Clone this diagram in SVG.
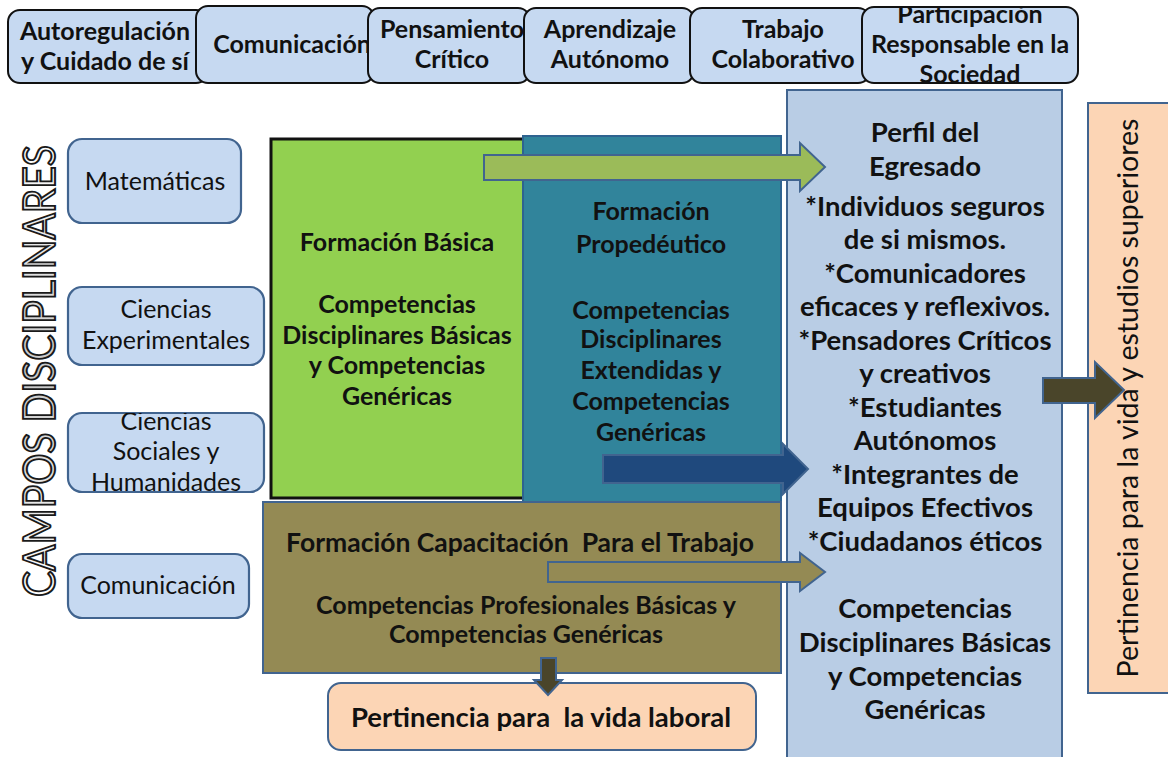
<svg xmlns="http://www.w3.org/2000/svg" width="1168" height="757" viewBox="0 0 1168 757">
<defs>
<style>
.tb{fill:#c6d9f1;stroke:#111;stroke-width:2}
.lb{fill:#c6d9f1;stroke:#41648f;stroke-width:2.2}
.t{font-family:Lato,"Open Sans",sans-serif;fill:#111;text-anchor:middle}
.tt{font-size:25px;font-weight:bold}
.lt{font-size:25px}
.ct{font-size:25px;font-weight:bold}
.ct26{font-size:26.5px;font-weight:bold}
.pt{font-size:27.5px;font-weight:bold}
.arr{stroke:#41648f;stroke-width:2}
</style>
<linearGradient id="gl" x1="0" y1="0" x2="1" y2="0">
<stop offset="0" stop-color="#ffffff"/>
<stop offset="0.5" stop-color="#c8c8c8"/>
<stop offset="1" stop-color="#ffffff"/>
</linearGradient>
<clipPath id="c6"><rect x="862" y="7" width="216" height="76" rx="12"/></clipPath>
<clipPath id="cs"><rect x="68" y="413" width="196" height="79" rx="14"/></clipPath>
</defs>
<rect width="1168" height="757" fill="#fff"/>

<g id="top-autoregulacion">
<rect class="tb" x="8" y="10" width="200" height="73" rx="12"/>
<text class="t tt" x="105" y="40">Autoregulación</text>
<text class="t tt" x="105" y="70">y Cuidado de sí</text>
</g>
<g id="top-comunicacion">
<rect class="tb" x="196" y="6" width="178" height="77" rx="12"/>
<text class="t tt" x="292" y="53">Comunicación</text>
</g>
<g id="top-pensamiento">
<rect class="tb" x="368" y="8" width="162" height="75" rx="12"/>
<text class="t tt" x="452" y="38">Pensamiento</text>
<text class="t tt" x="452" y="68">Crítico</text>
</g>
<g id="top-aprendizaje">
<rect class="tb" x="524" y="8" width="170" height="75" rx="12"/>
<text class="t tt" x="610" y="38">Aprendizaje</text>
<text class="t tt" x="610" y="68">Autónomo</text>
</g>
<g id="top-trabajo">
<rect class="tb" x="690" y="8" width="180" height="75" rx="12"/>
<text class="t tt" x="783" y="38">Trabajo</text>
<text class="t tt" x="783" y="68">Colaborativo</text>
</g>
<g id="top-participacion">
<rect class="tb" x="862" y="7" width="216" height="76" rx="12"/>
<g clip-path="url(#c6)">
<text class="t tt" x="970" y="23">Participación</text>
<text class="t tt" x="970" y="53">Responsable en la</text>
<text class="t tt" x="970" y="83">Sociedad</text>
</g>
</g>

<g id="campos-label">
<text x="0" y="0" transform="translate(55,371) rotate(-90)" font-family="Lato,'Open Sans',sans-serif" font-size="44" text-anchor="middle" fill="url(#gl)" stroke="#1a1a1a" stroke-width="2" textLength="452" lengthAdjust="spacingAndGlyphs">CAMPOS DISCIPLINARES</text>
</g>

<g id="campo-matematicas">
<rect class="lb" x="68" y="139" width="173" height="84" rx="14"/>
<text class="t lt" x="155" y="190">Matemáticas</text>
</g>
<g id="campo-experimentales">
<rect class="lb" x="68" y="287" width="196" height="78" rx="14"/>
<text class="t lt" x="166" y="318">Ciencias</text>
<text class="t lt" x="166" y="349">Experimentales</text>
</g>
<g id="campo-sociales">
<rect class="lb" x="68" y="413" width="196" height="79" rx="14"/>
<g clip-path="url(#cs)">
<text class="t lt" x="166" y="430">Ciencias</text>
<text class="t lt" x="166" y="460">Sociales y</text>
<text class="t lt" x="166" y="491">Humanidades</text>
</g>
</g>
<g id="campo-comunicacion">
<rect class="lb" x="68" y="554" width="181" height="64" rx="14"/>
<text class="t lt" x="158" y="594">Comunicación</text>
</g>

<g id="formacion-basica">
<rect x="271" y="139" width="254" height="359" fill="#92d050" stroke="#111" stroke-width="3"/>
<text class="t ct" x="397" y="251">Formación Básica</text>
<text class="t ct" x="397" y="313">Competencias</text>
<text class="t ct" x="397" y="344">Disciplinares Básicas</text>
<text class="t ct" x="397" y="374">y Competencias</text>
<text class="t ct" x="397" y="405">Genéricas</text>
</g>
<g id="formacion-propedeutico">
<rect x="523" y="136" width="258" height="366" fill="#31849b" stroke="#2e6390" stroke-width="2"/>
<text class="t ct" x="651" y="220">Formación</text>
<text class="t ct" x="651" y="253">Propedéutico</text>
<text class="t ct" x="651" y="319">Competencias</text>
<text class="t ct" x="651" y="348">Disciplinares</text>
<text class="t ct" x="651" y="379">Extendidas y</text>
<text class="t ct" x="651" y="410">Competencias</text>
<text class="t ct" x="651" y="441">Genéricas</text>
</g>
<g id="formacion-trabajo">
<rect x="263" y="502" width="518" height="171" fill="#948a54" stroke="#41648f" stroke-width="2"/>
<text class="t ct26" x="520" y="552" xml:space="preserve">Formación Capacitación  Para el Trabajo</text>
<text class="t ct" x="526" y="614">Competencias Profesionales Básicas y</text>
<text class="t ct" x="526" y="643">Competencias Genéricas</text>
</g>
<g id="pertinencia-laboral">
<rect x="328" y="683" width="428" height="67" rx="13" fill="#fcd5b5" stroke="#41648f" stroke-width="2"/>
<text class="t pt" x="541" y="727" xml:space="preserve">Pertinencia para  la vida laboral</text>
</g>

<g id="perfil-egresado">
<rect x="787" y="90" width="275" height="680" fill="#b9cde5" stroke="#41648f" stroke-width="2"/>
<text class="t pt" x="925" y="142">Perfil del</text>
<text class="t pt" x="925" y="176">Egresado</text>
<text class="t pt" x="925" y="216">*Individuos seguros</text>
<text class="t pt" x="925" y="249">de si mismos.</text>
<text class="t pt" x="925" y="283">*Comunicadores</text>
<text class="t pt" x="925" y="316">eficaces y reflexivos.</text>
<text class="t pt" x="925" y="350">*Pensadores Críticos</text>
<text class="t pt" x="925" y="383">y creativos</text>
<text class="t pt" x="925" y="417">*Estudiantes</text>
<text class="t pt" x="925" y="450">Autónomos</text>
<text class="t pt" x="925" y="484">*Integrantes de</text>
<text class="t pt" x="925" y="517">Equipos Efectivos</text>
<text class="t pt" x="925" y="551">*Ciudadanos éticos</text>
<text class="t pt" x="925" y="618">Competencias</text>
<text class="t pt" x="925" y="652">Disciplinares Básicas</text>
<text class="t pt" x="925" y="686">y Competencias</text>
<text class="t pt" x="925" y="719">Genéricas</text>
</g>

<g id="pertinencia-superiores">
<rect x="1088" y="103" width="90" height="590" fill="#fcd5b5" stroke="#41648f" stroke-width="2"/>
<text class="t" font-size="28.5" transform="translate(1138,398) rotate(-90)" x="0" y="0">Pertinencia para la vida y estudios superiores</text>
</g>

<g id="connectors">
<polygon class="arr" fill="#9bbb59" points="484,155 800,155 800,143 825,167 800,191 800,180 484,180"/>
<polygon class="arr" fill="#1f497d" points="603,455 783,455 783,444 808,469 783,494 783,483 603,483"/>
<polygon class="arr" fill="#948a54" points="548,562 800,562 800,553 825,572 800,591 800,582 548,582"/>
<polygon class="arr" fill="#4a452a" points="1043,378 1095,378 1095,362 1124,390 1095,418 1095,403 1043,403"/>
<polygon class="arr" fill="#4a452a" points="541,658 556,658 556,680 562,680 548,695 534,680 541,680"/>
</g>
</svg>
